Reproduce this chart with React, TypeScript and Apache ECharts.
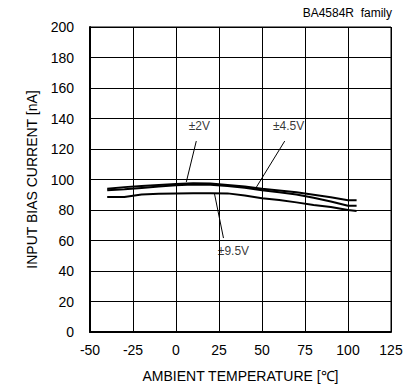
import React, { useEffect, useRef } from "react";
import * as echarts from "echarts";

const temps = [-40, -30, -20, -10, 0, 10, 20, 30, 40, 50, 60, 70, 80, 90, 100, 105];
const bias2V = [94, 95, 95.8, 96.4, 97, 97.6, 97.4, 96.4, 95.4, 94, 92.8, 91.6, 90, 88.3, 86.4, 86.4];
const bias45V = [92.9, 93.6, 94.5, 95.4, 96.3, 96.8, 96.6, 95.7, 94.6, 93, 91.6, 90.2, 88, 85.6, 82.8, 82.8];
const bias95V = [88.5, 88.5, 90.2, 90.6, 90.9, 91, 91, 90.9, 89.5, 87.7, 86.5, 85, 83.3, 82, 80, 79.3];

const labelTexts = ["±2V", "±4.5V", "±9.5V"];
const labelPos = [[13.6, 135.1], [65.5, 135.1], [33.4, 53.1]];
const leaderFrom = [[11.8, 125.2], [63.2, 125.2], [27.6, 61.6]];
const leaderTo = [[6, 98.4], [46.8, 95.1], [22.3, 91.1]];

const FONT = "'Liberation Sans', Arial, sans-serif";

export default function App() {
  const ref = useRef<HTMLDivElement>(null);
  useEffect(() => {
    const chart = echarts.init(ref.current!, undefined, { renderer: "svg" });
    const mk = (vals: number[]) => temps.map((t, i) => [t, vals[i]]);
    const lineSeries = (name: string, vals: number[]) => ({
      name,
      type: "line",
      data: mk(vals),
      showSymbol: false,
      symbol: "none",
      lineStyle: { color: "#000", width: 2 },
      z: 3,
    });
    chart.setOption({
      animation: false,
      textStyle: { fontFamily: FONT },
      grid: {
        left: 90,
        right: 17,
        top: 27,
        bottom: 53,
        show: true,
        borderColor: "#000",
        borderWidth: 1,
        containLabel: false,
        outerBoundsMode: "none",
      },
      xAxis: {
        type: "value",
        min: -50,
        max: 125,
        interval: 25,
        axisLine: { show: true, onZero: false, lineStyle: { color: "#000", width: 2 } },
        axisTick: { show: false },
        splitLine: { show: true, lineStyle: { color: "#000", width: 1 } },
        axisLabel: { color: "#000", fontSize: 14, margin: 11, fontFamily: FONT },
        name: "AMBIENT TEMPERATURE [℃]",
        nameLocation: "middle",
        nameGap: 37,
        nameTextStyle: { color: "#000", fontSize: 14, fontFamily: FONT },
      },
      yAxis: {
        type: "value",
        min: 0,
        max: 200,
        interval: 20,
        axisLine: { show: true, onZero: false, lineStyle: { color: "#000", width: 2 } },
        axisTick: { show: false },
        splitLine: { show: true, lineStyle: { color: "#000", width: 1 } },
        axisLabel: { color: "#000", fontSize: 14, margin: 16, fontFamily: FONT },
        name: "INPUT BIAS CURRENT [nA]",
        nameLocation: "middle",
        nameGap: 51,
        nameTextStyle: { color: "#000", fontSize: 14, fontFamily: FONT },
      },
      graphic: [
        {
          type: "text",
          right: 16,
          top: 7,
          style: { text: "BA4584R  family", fill: "#000", font: `12px ${FONT}` },
        },
      ],
      series: [
        lineSeries("±2V", bias2V),
        lineSeries("±4.5V", bias45V),
        lineSeries("±9.5V", bias95V),
        {
          type: "scatter",
          data: labelPos.map((p, i) => ({ value: p, name: labelTexts[i] })),
          symbolSize: 0,
          label: {
            show: true,
            position: "inside",
            formatter: (p: any) => p.name,
            color: "#000",
            fontSize: 12,
            fontFamily: FONT,
          },
          z: 4,
          markLine: {
            silent: true,
            symbol: "none",
            animation: false,
            label: { show: false },
            lineStyle: { color: "#000", width: 1, type: "solid" },
            data: leaderFrom.map((f, i) => [{ coord: f }, { coord: leaderTo[i] }]),
          },
        },
      ],
    });
    return () => chart.dispose();
  }, []);
  return (
    <div
      ref={ref}
      style={{ position: "fixed", left: 0, top: 0, width: 408, height: 385, background: "#fff" }}
    />
  );
}
